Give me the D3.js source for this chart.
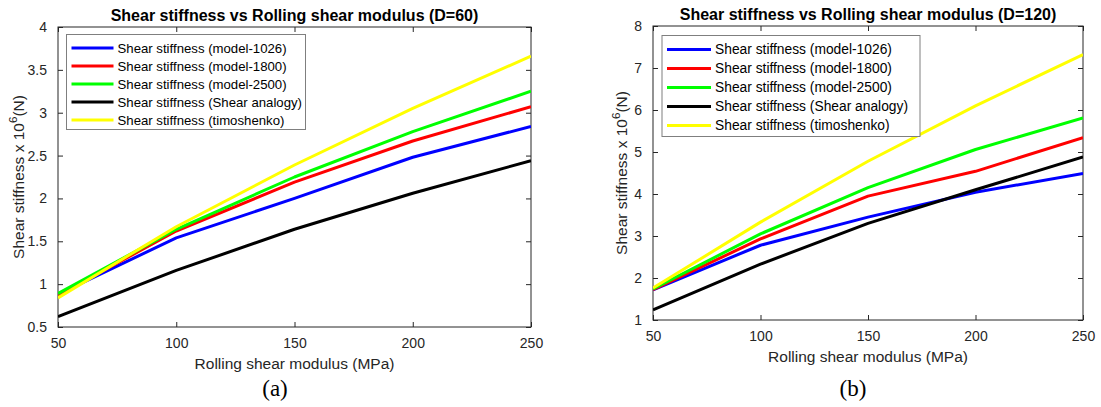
<!DOCTYPE html>
<html>
<head>
<meta charset="utf-8">
<script src="https://cdn.jsdelivr.net/npm/d3@7"></script>
<style>
  html, body { margin: 0; padding: 0; background: #fff; }
  svg { display: block; }
  text { font-family: Arial, "Liberation Sans", sans-serif; }
</style>
</head>
<body>
<svg id="chart" width="1101" height="407"></svg>
<script>
// ---- data ----
const xValues = [50, 100, 150, 200, 250];
const seriesNames = [
  "Shear stiffness (model-1026)",
  "Shear stiffness (model-1800)",
  "Shear stiffness (model-2500)",
  "Shear stiffness (Shear analogy)",
  "Shear stiffness (timoshenko)"
];
const seriesColors = ["#0000FF", "#FF0000", "#00FF00", "#000000", "#FFFF00"];

// Panel (a) D=60
const a_model1026 = [0.88, 1.54, 2.00, 2.48, 2.84];
const a_model1800 = [0.87, 1.62, 2.19, 2.67, 3.07];
const a_model2500 = [0.89, 1.64, 2.25, 2.78, 3.25];
const a_analogy   = [0.62, 1.16, 1.64, 2.06, 2.44];
const a_timosh    = [0.84, 1.67, 2.39, 3.05, 3.66];
const a_yTicks = [0.5, 1, 1.5, 2, 2.5, 3, 3.5, 4];

// Panel (b) D=120
const b_model1026 = [1.72, 2.78, 3.45, 4.04, 4.49];
const b_model1800 = [1.72, 2.93, 3.95, 4.54, 5.34];
const b_model2500 = [1.74, 3.05, 4.15, 5.06, 5.81];
const b_analogy   = [1.24, 2.33, 3.30, 4.10, 4.88];
const b_timosh    = [1.76, 3.33, 4.78, 6.10, 7.32];
const b_yTicks = [1, 2, 3, 4, 5, 6, 7, 8];

const xTicks = [50, 100, 150, 200, 250];

const svg = d3.select("#chart");
const axisColor = "#262626";

function drawPanel(cfg) {
  const g = svg.append("g");
  const x = d3.scaleLinear().domain([50, 250]).range([cfg.left, cfg.right]);
  const y = d3.scaleLinear().domain(cfg.yDomain).range([cfg.bottom, cfg.top]);

  const tickLen = 5;
  const ax = g.append("g").attr("transform", `translate(0,${cfg.bottom})`)
    .call(d3.axisBottom(x).tickValues(xTicks).tickSizeInner(-tickLen).tickSizeOuter(0).tickPadding(11).tickFormat(d3.format("d")));
  const axTop = g.append("g").attr("transform", `translate(0,${cfg.top})`)
    .call(d3.axisTop(x).tickValues(xTicks).tickSizeInner(-tickLen).tickSizeOuter(0).tickFormat(""));
  const ay = g.append("g").attr("transform", `translate(${cfg.left},0)`)
    .call(d3.axisLeft(y).tickValues(cfg.yTicks).tickSizeInner(-tickLen).tickSizeOuter(0).tickPadding(11).tickFormat(d => String(d)));
  const ayR = g.append("g").attr("transform", `translate(${cfg.right},0)`)
    .call(d3.axisRight(y).tickValues(cfg.yTicks).tickSizeInner(-tickLen).tickSizeOuter(0).tickFormat(""));
  [ax, axTop, ay, ayR].forEach(a => {
    a.select(".domain").remove();
    a.selectAll("line").attr("stroke", axisColor);
    a.selectAll("text").attr("fill", axisColor).style("font-size", cfg.tickFont + "px")
      .style("font-family", "Arial, 'Liberation Sans', sans-serif");
  });
  g.append("rect").attr("x", cfg.left).attr("y", cfg.top)
    .attr("width", cfg.right - cfg.left).attr("height", cfg.bottom - cfg.top)
    .attr("fill", "none").attr("stroke", axisColor).attr("stroke-width", 1);

  const line = d3.line().x((d, i) => x(xValues[i])).y(d => y(d));
  const clipId = "clip" + cfg.id;
  svg.append("clipPath").attr("id", clipId).append("rect")
    .attr("x", cfg.left).attr("y", cfg.top).attr("width", cfg.right - cfg.left).attr("height", cfg.bottom - cfg.top);
  cfg.series.forEach((s, i) => {
    g.append("path").datum(s).attr("d", line)
      .attr("fill", "none").attr("stroke", seriesColors[i]).attr("stroke-width", 3)
      .attr("stroke-linejoin", "round").attr("clip-path", `url(#${clipId})`);
  });

  g.append("text").attr("x", (cfg.left + cfg.right) / 2).attr("y", cfg.top - 6)
    .attr("text-anchor", "middle").style("font-size", "16px").style("font-weight", "bold")
    .attr("fill", "#000").text(cfg.title);

  g.append("text").attr("x", (cfg.left + cfg.right) / 2).attr("y", cfg.bottom + 42)
    .attr("text-anchor", "middle").style("font-size", cfg.labelFont + "px").attr("fill", axisColor)
    .text("Rolling shear modulus (MPa)");

  const yl = g.append("text")
    .attr("transform", `translate(${cfg.yLabelX},${(cfg.top + cfg.bottom) / 2}) rotate(-90)`)
    .attr("text-anchor", "middle").style("font-size", cfg.labelFont + "px").attr("fill", axisColor);
  yl.append("tspan").text("Shear stiffness x 10");
  yl.append("tspan").attr("dy", -7).style("font-size", (cfg.labelFont * 0.75) + "px").text("6");
  yl.append("tspan").attr("dy", 7).text("(N)");

  const lg = g.append("g");
  lg.append("rect").attr("x", cfg.legX).attr("y", cfg.legY)
    .attr("width", cfg.legW).attr("height", cfg.legH)
    .attr("fill", "#fff").attr("stroke", "#7f7f7f").attr("stroke-width", 1);
  seriesNames.forEach((n, i) => {
    const cy = cfg.legY + cfg.legPad + i * cfg.legRow;
    lg.append("line").attr("x1", cfg.legX + 5).attr("x2", cfg.legX + 5 + cfg.legLine)
      .attr("y1", cy).attr("y2", cy).attr("stroke", seriesColors[i]).attr("stroke-width", 3);
    lg.append("text").attr("x", cfg.legX + 9 + cfg.legLine).attr("y", cy)
      .attr("dy", "0.35em").style("font-size", cfg.legFont + "px").attr("fill", "#000").text(n);
  });

  svg.append("text").attr("x", cfg.capX).attr("y", 396).attr("text-anchor", "middle")
    .style("font-family", "'Liberation Serif', 'Times New Roman', serif").style("font-size", "23px")
    .attr("fill", "#000").text(cfg.caption);
}

drawPanel({
  id: "a", left: 58, right: 531, top: 27, bottom: 327,
  yDomain: [0.5, 4], yTicks: a_yTicks,
  series: [a_model1026, a_model1800, a_model2500, a_analogy, a_timosh],
  title: "Shear stiffness vs Rolling shear modulus (D=60)",
  yLabelX: 24, tickFont: 14, labelFont: 15.5,
  legX: 66.5, legY: 34.5, legW: 239, legH: 95, legPad: 13.5, legRow: 18, legLine: 42, legFont: 13.2,
  capX: 275, caption: "(a)"
});

drawPanel({
  id: "b", left: 653, right: 1083, top: 26, bottom: 320,
  yDomain: [1, 8], yTicks: b_yTicks,
  series: [b_model1026, b_model1800, b_model2500, b_analogy, b_timosh],
  title: "Shear stiffness vs Rolling shear modulus (D=120)",
  yLabelX: 627, tickFont: 14, labelFont: 15.5,
  legX: 662, legY: 35.5, legW: 258, legH: 101, legPad: 14, legRow: 19, legLine: 44, legFont: 13.8,
  capX: 853, caption: "(b)"
});
</script>
</body>
</html>
